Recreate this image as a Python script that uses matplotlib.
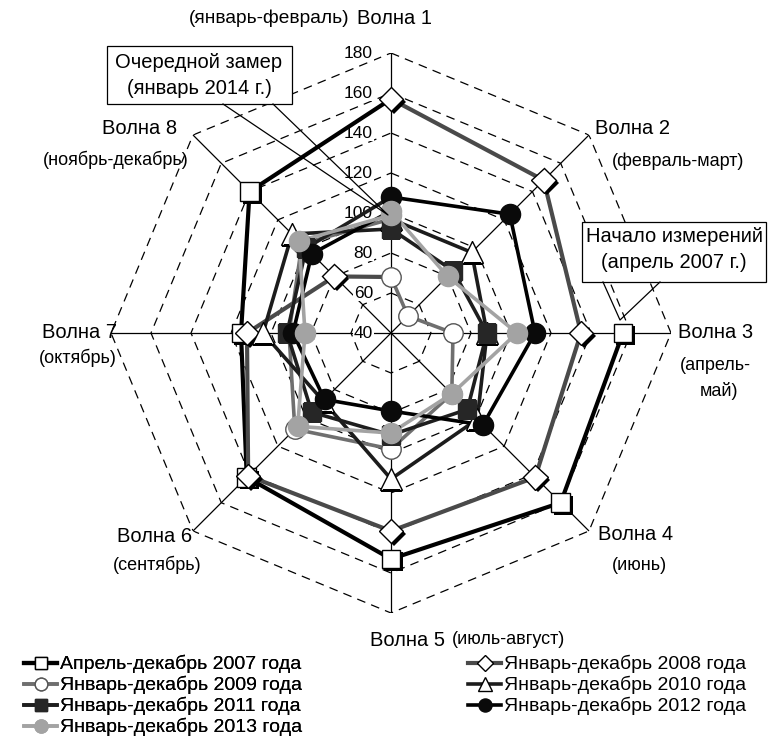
import numpy as np
import matplotlib
matplotlib.use('Agg')
import matplotlib.pyplot as plt
import matplotlib.patheffects as pe
from matplotlib.lines import Line2D
from matplotlib.patches import Polygon

plt.rcParams['font.family'] = ['Liberation Sans', 'DejaVu Sans']

# --- data -------------------------------------------------------------
wave_names = ['Волна 1', 'Волна 2', 'Волна 3', 'Волна 4',
              'Волна 5', 'Волна 6', 'Волна 7', 'Волна 8']
years = ['2007', '2008', '2009', '2010', '2011', '2012', '2013']
legend_labels = ['Апрель-декабрь 2007 года', 'Январь-декабрь 2008 года',
                 'Январь-декабрь 2009 года', 'Январь-декабрь 2010 года',
                 'Январь-декабрь 2011 года', 'Январь-декабрь 2012 года',
                 'Январь-декабрь 2013 года']

v2007 = [None, None, 156, 160, 153, 142, 115, 140]
v2008 = [157, 148, 135, 142, 139, 141, 112, 80]
v2009 = [68, 52, 71, 83, 98, 108, 91, 103]
v2010 = [97, 97, 88, 101, 113, 88, 104, 110]
v2011 = [92, 84, 88, 94, 91, 96, 92, 100]
v2012 = [108, 124, 112, 105, 79, 87, 89, 96]
v2013 = [101, 80, 103, 83, 90, 106, 83, 105]
jan_2014 = 99

ring_values = [60, 80, 100, 120, 140, 160, 180]
tick_values = [40, 60, 80, 100, 120, 140, 160, 180]

series = [v2007, v2008, v2009, v2010, v2011, v2012, v2013]

# --- styles -------------------------------------------------------------
styles = {
    '2007': dict(color='#000000', lw=3.0, marker='s', mfc='white', mec='black', ms=13.5, shadow=True),
    '2008': dict(color='#4a4a4a', lw=3.0, marker='D', mfc='white', mec='black', ms=12.5, shadow=True),
    '2009': dict(color='#6f6f6f', lw=2.6, marker='o', mfc='white', mec='#555555', ms=14, shadow=False),
    '2010': dict(color='#1c1c1c', lw=2.6, marker='^', mfc='white', mec='black', ms=16, shadow=False),
    '2011': dict(color='#1e1e1e', lw=2.6, marker='s', mfc='#262626', mec='#262626', ms=13.5, shadow=False),
    '2012': dict(color='#000000', lw=2.6, marker='o', mfc='#0a0a0a', mec='#0a0a0a', ms=14.5, shadow=False),
    '2013': dict(color='#a3a3a3', lw=2.6, marker='o', mfc='#a3a3a3', mec='#a3a3a3', ms=14.5, shadow=False),
}

W, H = 768, 751
fig = plt.figure(figsize=(W / 100, H / 100), dpi=100)

cx, cy, R = 391, 333, 280
ax = fig.add_axes([(cx - R) / W, (H - cy - R) / H, 2 * R / W, 2 * R / H], projection='polar')
ax.set_theta_zero_location('N')
ax.set_theta_direction(-1)
ax.set_ylim(40, 180)
ax.set_xticks([])
ax.set_yticks([])
ax.grid(False)
ax.spines['polar'].set_visible(False)

theta = np.linspace(0, 2 * np.pi, 9)

# grid: dashed octagons and solid spokes
for r in ring_values:
    ax.plot(theta, [r] * 9, color='black', lw=0.9, ls=(0, (7, 5)), zorder=1)
for t in theta[:-1]:
    ax.plot([t, t], [40, 180], color='black', lw=0.9, zorder=1)

for v in tick_values:
    ax.annotate(str(v), xy=(0, v), xytext=(-13, 0), textcoords='offset points',
                ha='right', va='center', fontsize=12.5, zorder=2,
                bbox=dict(fc='white', ec='none', pad=0.5))

# one continuous line, year by year; the Dec -> Jan link gets the earlier year's colour
next_first = [s[0] for s in series[1:]] + [jan_2014]
for i, (yr, vals) in enumerate(zip(years, series)):
    st = styles[yr]
    th = [theta[k] for k, v in enumerate(vals) if v is not None] + [theta[8]]
    rr = [v for v in vals if v is not None] + [next_first[i]]
    ax.plot(th, rr, color=st['color'], lw=st['lw'], solid_joinstyle='round',
            zorder=3 + i)

for i, (yr, vals) in enumerate(zip(years, series)):
    st = styles[yr]
    th = [theta[k] for k, v in enumerate(vals) if v is not None]
    rr = [v for v in vals if v is not None]
    if yr == '2013':
        th.append(theta[0])
        rr.append(jan_2014)
    effects = None
    if st['shadow']:
        effects = [pe.SimplePatchShadow(offset=(2, -2), shadow_rgbFace='black', alpha=1.0), pe.Normal()]
    ax.plot(th, rr, ls='none', marker=st['marker'], mfc=st['mfc'], mec=st['mec'],
            ms=st['ms'], mew=1.0, zorder=12 + i, path_effects=effects)

# --- overlay in pixel coordinates for labels and callouts ---------------
ov = fig.add_axes([0, 0, 1, 1])
ov.set_xlim(0, W)
ov.set_ylim(H, 0)
ov.axis('off')
ov.patch.set_alpha(0)

fs = 14.5     # wave names
fs2 = 13      # month hints
ov.text(350, 18, '(январь-февраль)', ha='right', va='center', fontsize=fs2 + 0.8)
ov.text(357, 18, wave_names[0], ha='left', va='center', fontsize=fs)
ov.text(595, 128, wave_names[1], ha='left', va='center', fontsize=fs)
ov.text(612, 161, '(февраль-март)', ha='left', va='center', fontsize=fs2)
ov.text(678, 333, wave_names[2], ha='left', va='center', fontsize=fs)
ov.text(715, 366, '(апрель-', ha='center', va='center', fontsize=fs2)
ov.text(719, 391, 'май)', ha='center', va='center', fontsize=fs2)
ov.text(636, 535, wave_names[3], ha='center', va='center', fontsize=fs)
ov.text(639, 565, '(июнь)', ha='center', va='center', fontsize=fs2)
ov.text(408, 640, wave_names[4], ha='center', va='center', fontsize=fs)
ov.text(452, 640, '(июль-август)', ha='left', va='center', fontsize=fs2)
ov.text(155, 536, wave_names[5], ha='center', va='center', fontsize=fs)
ov.text(157, 565, '(сентябрь)', ha='center', va='center', fontsize=fs2)
ov.text(80, 333, wave_names[6], ha='center', va='center', fontsize=fs)
ov.text(78, 358, '(октябрь)', ha='center', va='center', fontsize=fs2)
ov.text(140, 128, wave_names[7], ha='center', va='center', fontsize=fs)
ov.text(116, 160, '(ноябрь-декабрь)', ha='center', va='center', fontsize=fs2)

# callout: next measurement
ov.add_patch(Polygon([(107, 46), (292, 46), (292, 104), (107, 104)], closed=True,
                     fc='white', ec='black', lw=0.9, zorder=20))
ov.plot([223, 388, 273], [104, 215, 104], color='black', lw=0.9, zorder=20)
ov.text(199, 62, 'Очередной замер', ha='center', va='center', fontsize=fs, zorder=21)
ov.text(199, 88, '(январь 2014 г.)', ha='center', va='center', fontsize=fs, zorder=21)

# callout: start of measurements
ov.add_patch(Polygon([(582, 222), (766, 222), (766, 282), (582, 282)], closed=True,
                     fc='white', ec='black', lw=0.9, zorder=20))
ov.plot([603, 620, 660], [282, 320, 282], color='black', lw=0.9, zorder=20)
ov.text(674, 237, 'Начало измерений', ha='center', va='center', fontsize=fs, zorder=21)
ov.text(674, 263, '(апрель 2007 г.)', ha='center', va='center', fontsize=fs, zorder=21)

# --- legend -------------------------------------------------------------
handles = {}
for yr in years:
    st = styles[yr]
    handles[yr] = Line2D([], [], color=st['color'], lw=st['lw'], marker=st['marker'],
                         mfc=st['mfc'], mec=st['mec'], ms=st['ms'] * 0.65, mew=1.0)
lab = dict(zip(years, legend_labels))

col1 = ['2007', '2009', '2011', '2013']
col2 = ['2008', '2010', '2012']
kw = dict(loc='upper left', frameon=False, fontsize=14, handlelength=1.7,
          handletextpad=0.15, labelspacing=0.14, borderpad=0, borderaxespad=0)
leg1 = fig.legend([handles[y] for y in col1], [lab[y] for y in col1],
                  bbox_to_anchor=(24 / W, 1 - 655 / H), **kw)
fig.add_artist(leg1)
fig.legend([handles[y] for y in col2], [lab[y] for y in col2],
           bbox_to_anchor=(468 / W, 1 - 655 / H), **kw)

fig.savefig('out.png', dpi=100)
